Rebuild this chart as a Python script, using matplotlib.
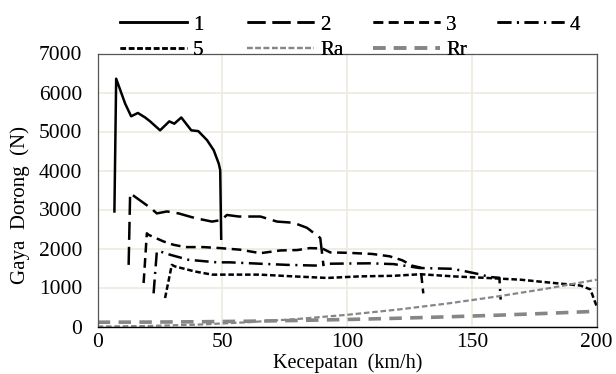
import matplotlib
matplotlib.use("Agg")
import matplotlib.pyplot as plt

# ---- data ----
x1 = [6.7, 7.4, 11.0, 13.4, 16.1, 19.0, 21.0, 25.0, 28.7, 30.7, 33.5, 37.5, 40.3, 43.8, 46.5, 48.5, 49.1, 49.5]
y1 = [2950, 6354, 5715, 5390, 5475, 5360, 5260, 5030, 5260, 5200, 5360, 5030, 5010, 4780, 4520, 4180, 4010, 2250]

x2 = [12.4, 13.0, 14.0, 17.7, 21.4, 23.7, 27.8, 32.4, 39.0, 45.8, 49.5, 51.8, 56.5, 65.2, 71.9, 78.5, 83.9, 89.2, 90.5]
y2 = [1580, 3415, 3370, 3200, 3030, 2900, 2950, 2900, 2780, 2690, 2730, 2860, 2820, 2820, 2690, 2660, 2530, 2270, 1560]

x3 = [18.4, 19.7, 20.4, 26.4, 30.4, 35.1, 42.4, 49.1, 57.0, 65.2, 73.2, 80.0, 85.0, 90.0, 93.2, 100.0, 110.0, 117.0, 122.0, 126.0, 129.4, 130.5]
y3 = [1115, 2390, 2350, 2180, 2095, 2036, 2036, 2010, 1970, 1880, 1950, 1960, 2010, 2000, 1900, 1890, 1860, 1800, 1700, 1560, 1510, 850]

x4 = [22.4, 23.7, 25.0, 29.0, 36.4, 47.8, 53.0, 65.0, 76.0, 89.0, 93.0, 109.0, 118.6, 129.0, 142.0, 147.0, 153.0, 157.0, 161.0, 161.5]
y4 = [850, 1925, 1925, 1840, 1710, 1645, 1645, 1610, 1580, 1560, 1610, 1620, 1600, 1500, 1480, 1420, 1340, 1270, 1250, 690]

x5 = [27.0, 29.7, 31.0, 39.0, 45.8, 59.0, 65.0, 78.5, 92.0, 105.0, 118.6, 129.4, 142.7, 156.0, 169.5, 182.9, 193.5, 197.5, 198.9, 200.0]
y5 = [730, 1580, 1540, 1410, 1330, 1330, 1330, 1285, 1245, 1285, 1300, 1340, 1285, 1245, 1200, 1115, 1050, 950, 700, 520]

v_res = [0, 20, 40, 60, 80, 100, 120, 140, 160, 180, 200]
ra = [0, 12, 48, 108, 192, 300, 432, 588, 768, 972, 1200]
rr = [110, 113, 121, 135, 155, 180, 211, 248, 289, 337, 390]

labels = ["1", "2", "3", "4", "5", "Ra", "Rr"]
xticks = [0, 50, 100, 150, 200]
yticks = [0, 1000, 2000, 3000, 4000, 5000, 6000, 7000]

# ---- style ----
plt.rcParams['font.family'] = ['Liberation Serif', 'DejaVu Serif']
plt.rcParams['lines.scale_dashes'] = False
FT = 15.5
FL = 15

fig = plt.figure(figsize=(6.16, 3.74), dpi=100)
ax = fig.add_axes([97.7/616, 1-326.5/374, (596.7-97.7)/616, (326.5-53.5)/374])

blk = 'black'
gry = '#868686'
h1, = ax.plot(x1, y1, color=blk, lw=1.8, ls='-', label=labels[0])
h2, = ax.plot(x2, y2, color=blk, lw=1.8, ls=(0, (13, 5)), label=labels[1])
h3, = ax.plot(x3, y3, color=blk, lw=1.8, ls=(0, (7, 4)), label=labels[2])
h4, = ax.plot(x4, y4, color=blk, lw=1.8, ls=(0, (10, 4, 1.5, 4)), label=labels[3])
h5, = ax.plot(x5, y5, color=blk, lw=1.8, ls=(0, (4, 2)), label=labels[4])
hra, = ax.plot(v_res, ra, color=gry, lw=1.6, ls=(0, (4, 2)), label=labels[5])
hrr, = ax.plot(v_res, rr, color=gry, lw=2.6, ls=(0, (9, 6)), label=labels[6])

ax.set_xlim(0, 200)
ax.set_ylim(0, 7000)
ax.set_xticks(xticks)
ax.set_yticks(yticks)
ax.tick_params(length=0, labelsize=FT)
ax.tick_params(axis='y', pad=11)
ax.tick_params(axis='x', pad=5)
ax.grid(True, color='#EEEAE0', lw=1.2)
ax.set_axisbelow(True)
for s in ['left', 'top', 'right']:
    ax.spines[s].set_color('#555555')
    ax.spines[s].set_linewidth(0.9)
ax.spines['bottom'].set_color('black')
ax.spines['bottom'].set_linewidth(1.0)

ax.set_xlabel("Kecepatan  (km/h)", fontsize=14.5)
ax.xaxis.label.set_va('center')
ax.xaxis.set_label_coords(0.5, -(363.5 - 326.5) / 273.0)
ax.set_ylabel("Gaya  Dorong  (N)", fontsize=FL)
ax.yaxis.set_label_coords(-(97.7 - 20) / 499.0, (326.5 - 205) / 273.0)
ax.yaxis.label.set_va('center')

# legend: four columns placed like the reference
cols = [([h1, h5], 120), ([h2, hra], 247), ([h3, hrr], 373), ([h4], 497)]
for hs, xpx in cols:
    lg = fig.legend(handles=hs, loc='upper left', bbox_to_anchor=(xpx/616, 1-15/374),
                    bbox_transform=fig.transFigure, frameon=False, fontsize=FL,
                    handlelength=3.2, handletextpad=0.3, borderpad=0, borderaxespad=0,
                    labelspacing=0.3)
    fig.add_artist(lg)

fig.savefig("out.png", dpi=100)
